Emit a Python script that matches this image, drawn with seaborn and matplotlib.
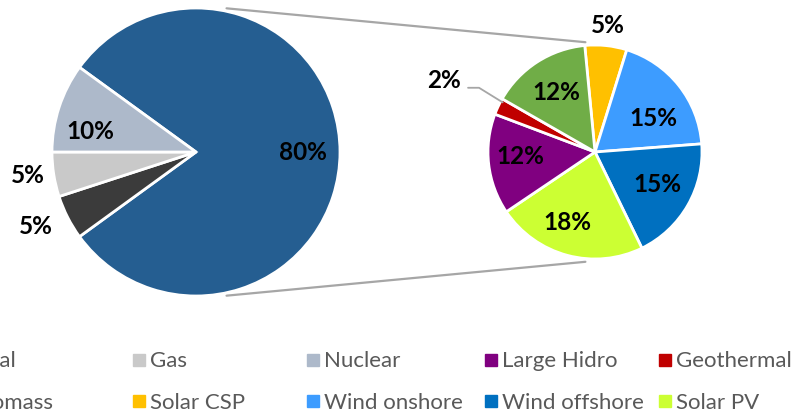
import numpy as np
import matplotlib
matplotlib.use("Agg")
import matplotlib.pyplot as plt
from matplotlib.lines import Line2D
import seaborn as sns

# main pie: "Other" is broken down in the small pie
main_labels = ["Other", "Coal", "Gas", "Nuclear"]
main_values = [80, 5, 5, 10]
main_colors = ["#255e91", "#3b3b3b", "#c9c9c9", "#adb9ca"]

# breakdown of "Other"
sub_labels = ["Solar CSP", "Wind onshore", "Wind offshore", "Solar PV",
              "Large Hidro", "Geothermal", "Biomass"]
sub_values = [5, 15, 15, 18, 12, 2, 12]
sub_colors = ["#ffc000", "#3d9cff", "#0070c0", "#ccff33",
              "#800080", "#c00000", "#70ad47"]

legend_rows = [
    ["Coal", "Gas", "Nuclear", "Large Hidro", "Geothermal"],
    ["Biomass", "Solar CSP", "Wind onshore", "Wind offshore", "Solar PV"],
]

sns.set_theme(style="white")
plt.rcParams["font.family"] = ["Lato", "DejaVu Sans"]

W, H = 800, 413
fig = plt.figure(figsize=(8, 4.13), dpi=100)
ax = fig.add_axes([0, 0, 1, 1])

main_c, main_r = (196, 261), 144
sub_c, sub_r = (595, 261), 107
wp = dict(edgecolor="white", linewidth=2)

w_main, _ = ax.pie(main_values, colors=main_colors, startangle=144,
                   counterclock=False, center=main_c, radius=main_r,
                   wedgeprops=wp)
w_sub, _ = ax.pie(sub_values, colors=sub_colors, startangle=95.5,
                  counterclock=False, center=sub_c, radius=sub_r,
                  wedgeprops=wp)
ax.set_xlim(0, W)
ax.set_ylim(0, H)
ax.axis("off")


def pol(c, r, ang):
    a = np.deg2rad(ang)
    return c[0] + r * np.cos(a), c[1] + r * np.sin(a)


# connector lines between the pies
for sgn in (1, -1):
    x0, y0 = pol(main_c, main_r * 1.02, sgn * 78)
    x1, y1 = pol(sub_c, sub_r * 1.03, sgn * 95)
    ax.plot([x0, x1], [y0, y1], color="#a6a6a6", lw=1.6, zorder=0)

lab_kw = dict(ha="center", va="center", fontsize=17.5, fontweight="bold",
              color="black")

main_dist = [0.74, 1.23, 1.18, 0.75]
main_shift = [0, -2, -1, 7]
for w, v, d, s in zip(w_main, main_values, main_dist, main_shift):
    mid = (w.theta1 + w.theta2) / 2
    ax.text(*pol(main_c, main_r * d, mid + s), f"{v}%", **lab_kw)

sub_dist = [1.19, 0.63, 0.66, 0.71, 0.70, 1.56, 0.66]
sub_shift = [0, -9, 2, -6, -3, 0, 0]
for w, v, d, s, name in zip(w_sub, sub_values, sub_dist, sub_shift, sub_labels):
    mid = (w.theta1 + w.theta2) / 2
    lx, ly = pol(sub_c, sub_r * d, mid + s)
    ax.text(lx, ly, f"{v}%", **lab_kw)
    if name == "Geothermal":
        ex, ey = pol(sub_c, sub_r * 0.98, mid - 3)
        ax.plot([lx + 24, lx + 35, ex], [ly - 7, ly - 7, ey],
                color="#a6a6a6", lw=1.3)

# legend, one block per column so the columns are evenly spaced
color_of = dict(zip(main_labels + sub_labels, main_colors + sub_colors))
col_left = [-46, 132.5, 306.5, 484, 658.5]
for j, x in enumerate(col_left):
    names = [row[j] for row in legend_rows]
    handles = [Line2D([], [], marker="s", ls="", markersize=8.5,
                      color=color_of[n]) for n in names]
    fig.legend(handles, names, loc="center left",
               bbox_to_anchor=(x / W, 0.075), frameon=False, fontsize=16,
               handlelength=0.6, handletextpad=0.2, labelspacing=0.95,
               borderpad=0, borderaxespad=0, labelcolor="#595959")

fig.savefig("out.png", dpi=100)
